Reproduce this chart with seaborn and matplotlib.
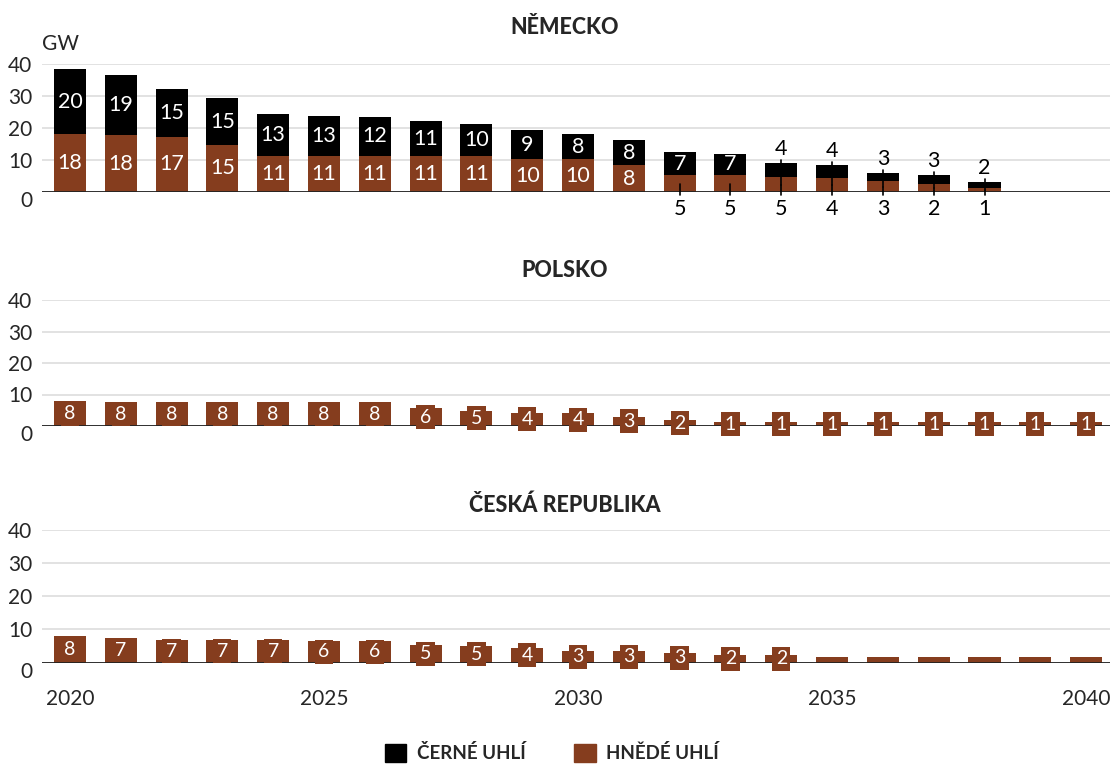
import pandas as pd
import matplotlib.pyplot as plt
import seaborn as sns
from matplotlib.patches import Patch
from matplotlib.transforms import ScaledTranslation

# Instalovaný výkon uhelných elektráren (GW)
years = list(range(2020, 2041))

de_brown = [18.1, 17.8, 17.2, 14.7, 11.3, 11.3, 11.3, 11.3, 11.3, 10.3, 10.3,
            8.4, 5.3, 5.3, 4.6, 4.3, 3.3, 2.4, 1.4, 0, 0]
de_black = [20.2, 18.7, 14.9, 14.6, 13.1, 12.6, 12.1, 10.8, 9.9, 9.0, 7.8,
            7.8, 7.1, 6.6, 4.4, 4.1, 2.6, 2.8, 1.6, 0, 0]
pl_brown = [7.9, 7.6, 7.6, 7.6, 7.6, 7.6, 7.6, 5.6, 4.9, 4.2, 4.1,
            2.9, 1.9, 1.2, 1.2, 1.2, 1.2, 1.2, 1.2, 1.2, 1.2]
cz_brown = [8.0, 7.3, 6.7, 6.7, 6.7, 6.4, 6.4, 5.4, 5.1, 4.3, 3.4,
            3.4, 3.0, 2.4, 2.4, 1.7, 1.7, 1.7, 1.7, 1.7, 1.7]
cz_last_label = 2034

titles = ['NĚMECKO', 'POLSKO', 'ČESKÁ REPUBLIKA']
legend_labels = ['ČERNÉ UHLÍ', 'HNĚDÉ UHLÍ']
y_ticks = [0, 10, 20, 30, 40]
x_ticks = [2020, 2025, 2030, 2035, 2040]

BROWN = '#853d1e'
W, H = 1110, 765

sns.set_style('white')
plt.rcParams['font.family'] = ['Lato', 'DejaVu Sans']

fig = plt.figure(figsize=(W / 100, H / 100), dpi=100)


def make_ax(top_px, bottom_px):
    return fig.add_axes([42 / W, 1 - bottom_px / H, 1068 / W, (bottom_px - top_px) / H])


def style_ax(ax, title, title_px, show_x):
    ax.set_xlim(2019.45, 2040.47)
    ax.set_ylim(0, 40)
    ax.set_yticks(y_ticks)
    ax.grid(axis='y', color='#dddddd', lw=1.2)
    ax.set_axisbelow(True)
    for s in ax.spines.values():
        s.set_visible(False)
    ax.axhline(0, color='#222222', lw=1.3, zorder=3)
    ax.set_xlabel('')
    ax.set_ylabel('')
    ax.tick_params(axis='y', length=0, pad=7, labelsize=15)
    ax.tick_params(axis='x', length=0, pad=19, labelsize=15)
    ax.set_xticks(x_ticks)
    if not show_x:
        ax.set_xticklabels([])
    else:
        ax.set_xticklabels([str(t) for t in x_ticks])
    # nula trochu níž pod osou
    lab = ax.get_yticklabels()[0]
    lab.set_transform(lab.get_transform() + ScaledTranslation(0, -7 / 100, fig.dpi_scale_trans))
    fig.text(0.509, 1 - title_px / H, title, ha='center', va='center',
             fontsize=15.5, fontweight='black')


# --- Německo ---
ax1 = make_ax(64, 192)
de = pd.DataFrame({'rok': years, 'hnede': de_brown, 'cerne': de_black})
de['celkem'] = de['hnede'] + de['cerne']
sns.barplot(data=de, x='rok', y='celkem', native_scale=True, color='black',
            saturation=1, width=0.63, errorbar=None, linewidth=0, ax=ax1)
sns.barplot(data=de, x='rok', y='hnede', native_scale=True, color=BROWN,
            saturation=1, width=0.63, errorbar=None, linewidth=0, ax=ax1)
for _, r in de.iterrows():
    if r['celkem'] == 0:
        continue
    x, b, c = r['rok'], r['hnede'], r['cerne']
    if b >= 6:
        ax1.text(x, b / 2, f'{b:.0f}', ha='center', va='center', color='white', fontsize=15.5, zorder=5)
    else:
        ax1.plot([x, x], [b / 2, -0.9], color='black', lw=1.2, zorder=4, clip_on=False)
        ax1.text(x, -2.1, f'{b:.0f}', ha='center', va='top', color='black', fontsize=15.5, clip_on=False)
    if c >= 5:
        ax1.text(x, b + c / 2, f'{c:.0f}', ha='center', va='center', color='white', fontsize=15.5, zorder=5)
    else:
        ax1.plot([x, x], [b + c + 1.0, b / 2], color='black', lw=1.2, zorder=4)
        ax1.text(x, b + c + 1.3, f'{c:.0f}', ha='center', va='bottom', color='black', fontsize=15.5)
style_ax(ax1, titles[0], 27, False)

# --- Polsko ---
ax2 = make_ax(300, 426)
pl = pd.DataFrame({'rok': years, 'hnede': pl_brown})
sns.barplot(data=pl, x='rok', y='hnede', native_scale=True, color=BROWN,
            saturation=1, width=0.63, errorbar=None, linewidth=0, ax=ax2)
for _, r in pl.iterrows():
    ax2.text(r['rok'], r['hnede'] / 2, f"{r['hnede']:.0f}", ha='center', va='center',
             color='white', fontsize=14, zorder=5,
             bbox=dict(boxstyle='square,pad=0.18', fc=BROWN, ec='none'))
style_ax(ax2, titles[1], 270, False)

# --- Česká republika ---
ax3 = make_ax(529.5, 662.5)
cz = pd.DataFrame({'rok': years, 'hnede': cz_brown})
sns.barplot(data=cz, x='rok', y='hnede', native_scale=True, color=BROWN,
            saturation=1, width=0.63, errorbar=None, linewidth=0, ax=ax3)
for _, r in cz.iterrows():
    if r['rok'] > cz_last_label:
        continue
    ax3.text(r['rok'], r['hnede'] / 2, f"{r['hnede']:.0f}", ha='center', va='center',
             color='white', fontsize=14, zorder=5,
             bbox=dict(boxstyle='square,pad=0.18', fc=BROWN, ec='none'))
style_ax(ax3, titles[2], 505, True)

fig.text(42 / W, 1 - 44 / H, 'GW', ha='left', va='center', fontsize=15)

handles = [Patch(color='black', label=legend_labels[0]),
           Patch(color=BROWN, label=legend_labels[1])]
fig.legend(handles=handles, loc='center', bbox_to_anchor=(0.497, 1 - 753 / H), ncol=2,
           frameon=False, handlelength=1.15, handleheight=1.15, handletextpad=0.55,
           columnspacing=2.6, prop={'weight': 'bold', 'size': 13.5})

fig.savefig('out.png', dpi=100)
